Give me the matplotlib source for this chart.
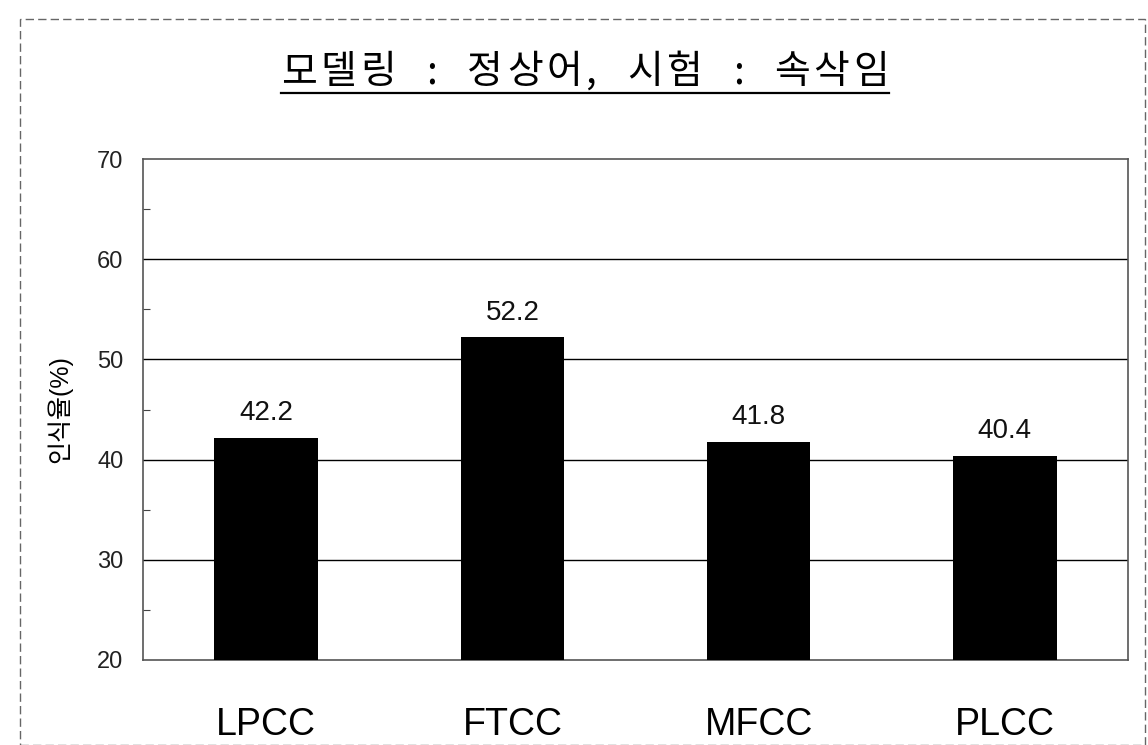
import matplotlib
matplotlib.use("Agg")
import matplotlib.pyplot as plt
from matplotlib.lines import Line2D
from matplotlib.patches import Rectangle
from matplotlib.ticker import MultipleLocator

plt.rcParams['font.family'] = ['Liberation Sans', 'Noto Sans CJK KR', 'DejaVu Sans']

categories = ["LPCC", "FTCC", "MFCC", "PLCC"]
rates = [42.2, 52.2, 41.8, 40.4]
y_ticks = [20, 30, 40, 50, 60, 70]
title = "모델링 : 정상어, 시험 : 속삭임"
y_label = "인식율(%)"

W, H = 1148, 745
fig = plt.figure(figsize=(W / 100, H / 100), dpi=100)
fig.patch.set_facecolor("white")

# plot area in pixel coordinates
left, right, top, bottom = 143, 1128, 159, 660
ax = fig.add_axes([left / W, 1 - bottom / H, (right - left) / W, (bottom - top) / H])

x = list(range(len(categories)))
ax.bar(x, rates, width=0.42, color="black", zorder=3)
ax.set_xlim(-0.5, len(categories) - 0.5)
ax.set_ylim(20, 70)
ax.set_yticks(y_ticks)
ax.yaxis.set_minor_locator(MultipleLocator(5))
ax.set_xticks(x)
ax.set_xticklabels(categories, fontsize=27)
ax.tick_params(axis="x", length=0, pad=34)
ax.tick_params(axis="y", which="major", direction="in", length=0, labelsize=17, pad=14,
               labelcolor="#222222")
ax.tick_params(axis="y", which="minor", direction="in", length=5, width=0.8, color="#444444")

for v in y_ticks[1:-1]:
    ax.axhline(v, color="black", linewidth=1.0, zorder=2)

for s in ax.spines.values():
    s.set_color("#555555")
    s.set_linewidth(1.2)
    s.set_linestyle((0, (4, 1)))

for xi, v in zip(x, rates):
    ax.annotate(f"{v:.1f}", (xi, v), xytext=(0, 8.5), textcoords="offset points",
                ha="center", va="bottom", fontsize=20, color="#111111")

ax.set_ylabel(y_label, fontsize=18, labelpad=18)

# title drawn with letter spacing (wider word gaps), then underlined
title_font = dict(fontsize=28, family=['Noto Sans CJK KR', 'DejaVu Sans'])
title_x0, title_x1, title_y = 281, 889, 72
renderer = fig.canvas.get_renderer()
space_w = 8.0
widths = []
for ch in title:
    if ch == " ":
        widths.append(space_w)
        continue
    tmp = fig.text(0, 0, ch, **title_font)
    widths.append(tmp.get_window_extent(renderer).width)
    tmp.remove()
letter_gap = 4.0
n_space = title.count(" ")
extra = (title_x1 - title_x0 - sum(widths) - letter_gap * (len(title) - 1)) / n_space
cx = title_x0
for ch, w in zip(title, widths):
    if ch == " ":
        cx += w + extra + letter_gap
        continue
    fig.text(cx / W, 1 - title_y / H, ch, ha="left", va="center", **title_font)
    cx += w + letter_gap
uy = 1 - 93 / H
fig.add_artist(Line2D([title_x0 / W, title_x1 / W], [uy, uy], transform=fig.transFigure,
                      color="black", linewidth=1.6))

# outer chart frame
fig.add_artist(Rectangle((20 / W, 0 / H), (1145 - 20) / W, (H - 19) / H,
                         transform=fig.transFigure, fill=False,
                         edgecolor="#666666", linewidth=1.0, linestyle=(0, (6, 3))))

fig.savefig("out.png", dpi=100, facecolor="white")
